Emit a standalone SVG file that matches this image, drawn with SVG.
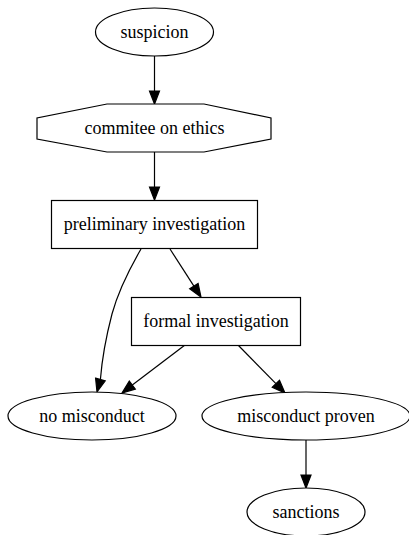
<svg xmlns="http://www.w3.org/2000/svg" width="409" height="535" viewBox="0 0 409 535">
<style>
.n{fill:#fff;stroke:#000;stroke-width:1.2}
.t{font-family:"Liberation Serif","Times New Roman",serif;font-size:18px;text-anchor:middle;fill:#000}
.e{fill:none;stroke:#000;stroke-width:1.2}
.a{fill:#000;stroke:#000;stroke-width:1.2}
</style>
<rect width="409" height="535" fill="#fff"/>
<g id="edges">
<path class="e" d="M154.5,56 L154.5,91"/><polygon class="a" points="149.5,91 159.5,91 154.5,104"/>
<path class="e" d="M154.5,152 L154.5,187"/><polygon class="a" points="149.5,187 159.5,187 154.5,200"/>
<path class="e" d="M170,249 L193.9,286.1"/><polygon class="a" points="189.7,288.8 198.1,283.4 201,297"/>
<path class="e" d="M141,249 C130,268 118,292 112,314 C106,337 102,359 100.4,379.5"/><polygon class="a" points="95.6,378.2 105.2,380.8 97,392"/>
<path class="e" d="M185,345 L132.3,385.1"/><polygon class="a" points="135.3,389.1 129.3,381.1 122,393"/>
<path class="e" d="M238,345 L275.9,383.7"/><polygon class="a" points="272.3,387.2 279.5,380.2 285,393"/>
<path class="e" d="M306,440 L306,475"/><polygon class="a" points="301,475 311,475 306,488"/>
</g>
<g id="suspicion"><ellipse class="n" cx="154.5" cy="32" rx="59" ry="24"/><text class="t" x="154.5" y="38">suspicion</text></g>
<g id="commitee"><polygon class="n" points="271,118 271,139 204,152 107,152 37,139 37,118 107,104 204,104"/><text class="t" x="154.5" y="134">commitee on ethics</text></g>
<g id="preliminary"><rect class="n" x="51.5" y="200.5" width="206" height="48"/><text class="t" x="154.5" y="230">preliminary investigation</text></g>
<g id="formal"><rect class="n" x="131.5" y="297.5" width="169" height="48"/><text class="t" x="216" y="327">formal investigation</text></g>
<g id="nomisconduct"><ellipse class="n" cx="92" cy="416" rx="84" ry="24"/><text class="t" x="92" y="422">no misconduct</text></g>
<g id="proven"><ellipse class="n" cx="306" cy="416" rx="104" ry="24"/><text class="t" x="306" y="422">misconduct proven</text></g>
<g id="sanctions"><ellipse class="n" cx="306" cy="512" rx="59" ry="24"/><text class="t" x="306" y="518">sanctions</text></g>
</svg>
